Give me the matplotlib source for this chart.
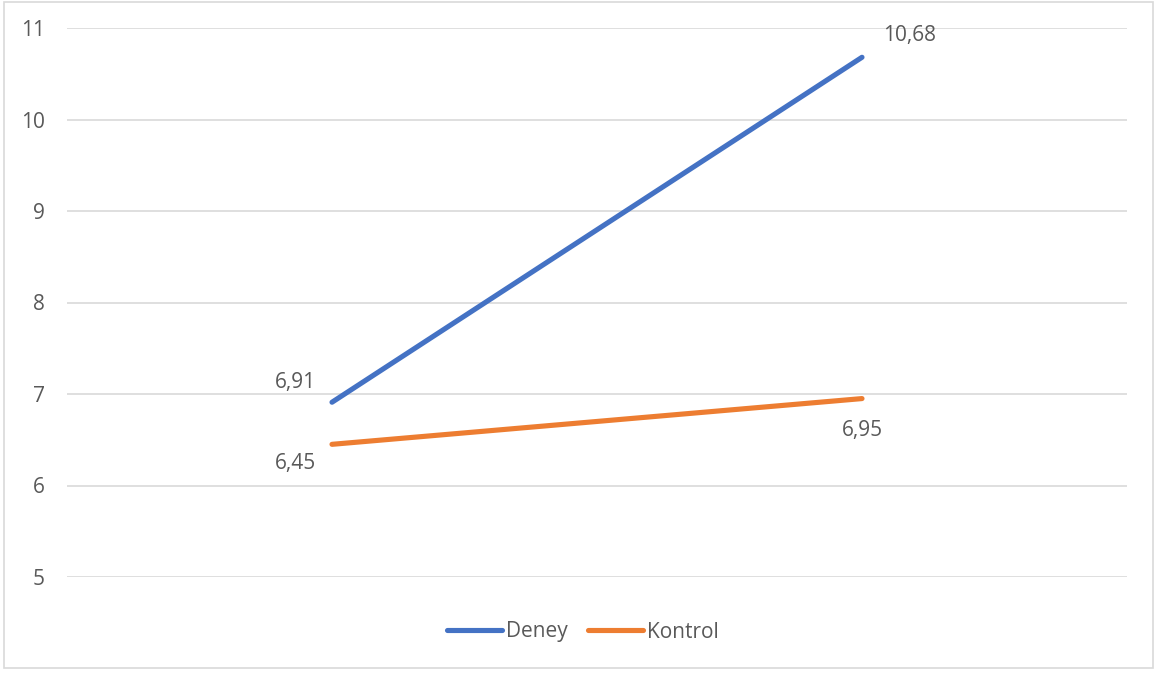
import matplotlib

matplotlib.use("Agg")

import matplotlib.pyplot as plt  # noqa: E402
from matplotlib.patches import Rectangle  # noqa: E402

# ---------------------------------------------------------------- data
categories = ["Ön test", "Son test"]
deney = [6.91, 10.68]
kontrol = [6.45, 6.95]
series_names = ["Deney", "Kontrol"]
yticks = [5, 6, 7, 8, 9, 10, 11]

BLUE, ORANGE = "#4472C4", "#ED7D31"
TEXT, GRID = "#595959", "#D9D9D9"
FS = 15

plt.rcParams["font.family"] = ["Open Sans", "DejaVu Sans"]

W, H = 1157, 677
fig = plt.figure(figsize=(W / 100, H / 100), dpi=100)
ax = fig.add_axes([67 / W, 100 / H, 1060 / W, 549 / H])

x = list(range(len(categories)))
ax.plot(x, deney, color=BLUE, lw=3.7, solid_capstyle="round", label=series_names[0])
ax.plot(x, kontrol, color=ORANGE, lw=3.7, solid_capstyle="round", label=series_names[1])

# data labels (offsets in points)
lab_kw = dict(fontsize=FS, color=TEXT, ha="center", va="center", textcoords="offset points")
ax.annotate(f"{deney[0]:.2f}".replace(".", ","), (x[0], deney[0]), xytext=(-26, 14), **lab_kw)
ax.annotate(f"{deney[1]:.2f}".replace(".", ","), (x[1], deney[1]), xytext=(34, 16), **lab_kw)
ax.annotate(f"{kontrol[0]:.2f}".replace(".", ","), (x[0], kontrol[0]), xytext=(-26, -14), **lab_kw)
ax.annotate(f"{kontrol[1]:.2f}".replace(".", ","), (x[1], kontrol[1]), xytext=(0, -23), **lab_kw)

ax.set_xlim(-0.5, len(categories) - 0.5)
ax.set_ylim(min(yticks), max(yticks))
ax.set_yticks(yticks)
ax.set_xticks([])
ax.grid(axis="y", color=GRID, lw=1.2)
ax.set_axisbelow(True)
ax.tick_params(axis="y", length=0, pad=16, labelsize=FS, labelcolor=TEXT)
for s in ax.spines.values():
    s.set_visible(False)

fig.legend(
    loc="center",
    bbox_to_anchor=(583 / W, 1 - 632 / H),
    ncol=2,
    frameon=False,
    fontsize=FS,
    labelcolor=TEXT,
    handlelength=2.6,
    handletextpad=0.2,
    columnspacing=1.0,
)

# outer chart border
fig.add_artist(
    Rectangle((4 / W, 1 - 668 / H), 1149 / W, 666 / H, transform=fig.transFigure,
              fill=False, edgecolor=GRID, lw=1.2)
)

fig.savefig("out.png", dpi=100, facecolor="white")
